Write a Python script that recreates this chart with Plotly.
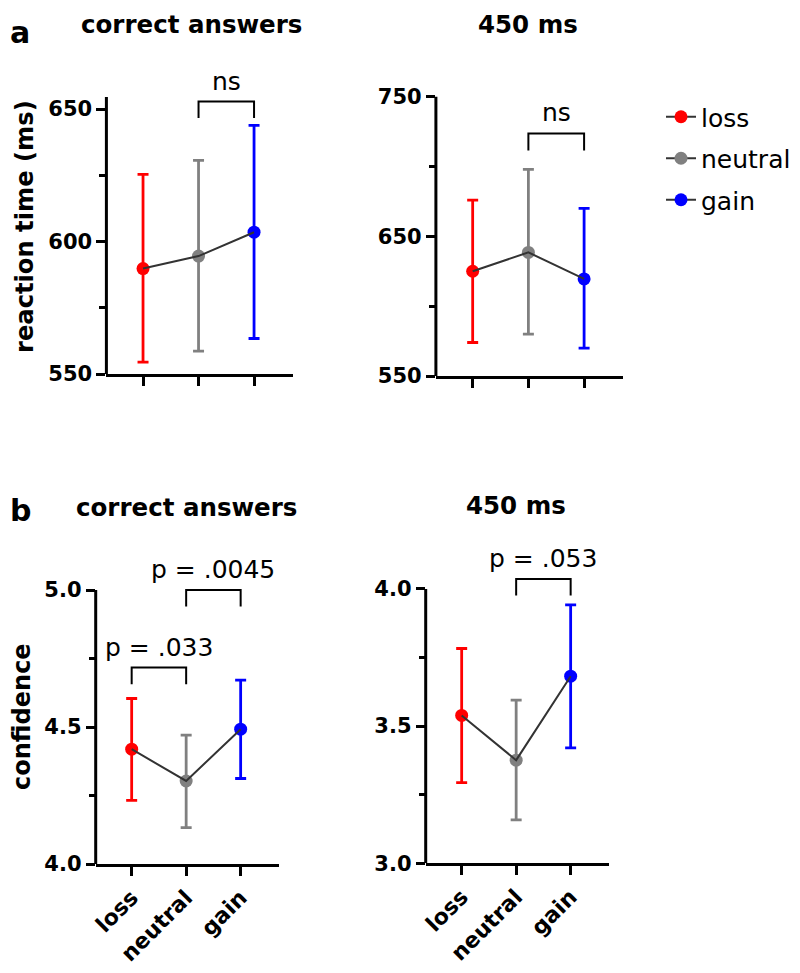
import plotly.graph_objects as go

# conditions and colours
conditions = ["loss", "neutral", "gain"]
colors = ["#ff0000", "#808080", "#0000ff"]

# reaction time, correct answers (mean, upper and lower end of error bar)
rt_correct_mean = [589.8, 594.5, 603.5]
rt_correct_upper = [625.3, 630.6, 643.8]
rt_correct_lower = [554.5, 558.6, 563.4]

# reaction time, 450 ms
rt_450_mean = [625.0, 638.5, 619.5]
rt_450_upper = [676.0, 698.0, 670.0]
rt_450_lower = [574.0, 580.0, 570.0]

# confidence, correct answers
conf_correct_mean = [4.419, 4.303, 4.492]
conf_correct_upper = [4.604, 4.470, 4.671]
conf_correct_lower = [4.232, 4.133, 4.312]

# confidence, 450 ms
conf_450_mean = [3.539, 3.376, 3.682]
conf_450_upper = [3.783, 3.595, 3.942]
conf_450_lower = [3.294, 3.158, 3.421]

# significance brackets: (from index, to index, top, foot, label)
rt_correct_brackets = [(1, 2, 652.8, 646.6, "ns")]
rt_450_brackets = [(1, 2, 723.7, 711.5, "ns")]
conf_correct_brackets = [(0, 1, 4.717, 4.656, "p = .033"),
                         (1, 2, 5.000, 4.940, "p = .0045")]
conf_450_brackets = [(1, 2, 4.036, 3.976, "p = .053")]

# y ticks
rt_correct_ticks = [550, 600, 650]
rt_correct_minor = [575, 625]
rt_450_ticks = [550, 650, 750]
rt_450_minor = [600, 700]
conf_correct_ticks = [4.0, 4.5, 5.0]
conf_correct_minor = [4.25, 4.75]
conf_450_ticks = [3.0, 3.5, 4.0]
conf_450_minor = [3.25, 3.75]

# the page body has an 8px margin, so the figure is a bit smaller than the window
PAGE_OFF = 8
W, H = 792, 957
FONT = "DejaVu Sans"


def px2x(px):
    return (px - PAGE_OFF) / W


def py2y(py):
    return 1 - (py - PAGE_OFF) / H


# panel layout in page pixels: x box, y box (bottom, top), y range, top of the drawn axis line
panels = [
    dict(mean=rt_correct_mean, upper=rt_correct_upper, lower=rt_correct_lower,
         brackets=rt_correct_brackets, ticks=rt_correct_ticks, minor=rt_correct_minor,
         tickfmt="d", xpx=(106.4, 292.9), ypx=(374, 69.25), yrange=[550, 665],
         axis_top=654.5, xlabels=False),
    dict(mean=rt_450_mean, upper=rt_450_upper, lower=rt_450_lower,
         brackets=rt_450_brackets, ticks=rt_450_ticks, minor=rt_450_minor,
         tickfmt="d", xpx=(435.9, 623.1), ypx=(376, 54.8), yrange=[550, 780],
         axis_top=750, xlabels=False),
    dict(mean=conf_correct_mean, upper=conf_correct_upper, lower=conf_correct_lower,
         brackets=conf_correct_brackets, ticks=conf_correct_ticks, minor=conf_correct_minor,
         tickfmt=".1f", xpx=(95.7, 278.8), ypx=(864, 535.2), yrange=[4.0, 5.2],
         axis_top=5.0, xlabels=True),
    dict(mean=conf_450_mean, upper=conf_450_upper, lower=conf_450_lower,
         brackets=conf_450_brackets, ticks=conf_450_ticks, minor=conf_450_minor,
         tickfmt=".1f", xpx=(425.7, 608.8), ypx=(863.3, 534.1), yrange=[3.0, 4.2],
         axis_top=4.0, xlabels=True),
]

fig = go.Figure()
layout = {}
annotations = []
shapes = []
x_idx = list(range(len(conditions)))

for p, pan in enumerate(panels):
    n = "" if p == 0 else str(p + 1)
    xa, ya = "x" + n, "y" + n

    for i, cond in enumerate(conditions):
        fig.add_trace(go.Scatter(
            x=[x_idx[i]], y=[pan["mean"][i]], xaxis=xa, yaxis=ya,
            mode="lines+markers", name=cond, legendgroup=cond,
            showlegend=(p == 0),
            line=dict(color="#333333", width=2),
            marker=dict(color=colors[i], size=13),
            error_y=dict(type="data", symmetric=False,
                         array=[pan["upper"][i] - pan["mean"][i]],
                         arrayminus=[pan["mean"][i] - pan["lower"][i]],
                         color=colors[i], thickness=2.8, width=5.5),
            cliponaxis=False,
        ))
    fig.add_trace(go.Scatter(
        x=x_idx, y=pan["mean"], xaxis=xa, yaxis=ya, mode="lines",
        line=dict(color="#333333", width=2), showlegend=False, hoverinfo="skip",
    ))

    for a, b, top, foot, label in pan["brackets"]:
        fig.add_trace(go.Scatter(
            x=[a, a, b, b], y=[foot, top, top, foot], xaxis=xa, yaxis=ya,
            mode="lines", line=dict(color="black", width=2),
            showlegend=False, hoverinfo="skip",
        ))
        annotations.append(dict(
            x=(a + b) / 2, y=top, xref=xa, yref=ya, text=label, showarrow=False,
            yanchor="bottom", yshift=4, font=dict(family=FONT, size=25, color="black"),
        ))

    # y axis line up to the top tick
    shapes.append(dict(type="line", xref=xa + " domain", yref=ya, x0=0, x1=0,
                       y0=pan["yrange"][0], y1=pan["axis_top"],
                       line=dict(color="black", width=3)))

    layout["xaxis" + n] = dict(
        domain=[px2x(pan["xpx"][0]), px2x(pan["xpx"][1])], anchor=ya,
        range=[-0.66, 2.70], tickvals=x_idx, ticktext=conditions,
        showticklabels=pan["xlabels"], tickangle=-45, automargin=False,
        tickfont=dict(family=FONT, size=22, color="black", weight="bold"),
        showline=True, linecolor="black", linewidth=3,
        ticks="outside", ticklen=9, tickwidth=3, tickcolor="black",
        showgrid=False, zeroline=False, fixedrange=True,
    )
    layout["yaxis" + n] = dict(
        domain=[py2y(pan["ypx"][0]), py2y(pan["ypx"][1])], anchor=xa,
        range=pan["yrange"], tickvals=pan["ticks"], tickformat=pan["tickfmt"],
        tickfont=dict(family=FONT, size=21, color="black", weight="bold"),
        showline=False, ticks="outside", ticklen=9, tickwidth=3, tickcolor="black",
        minor=dict(tickvals=pan["minor"], ticks="outside", ticklen=6,
                   tickwidth=3, tickcolor="black", showgrid=False),
        showgrid=False, zeroline=False, fixedrange=True, automargin=False,
    )

# titles, panel letters, axis titles (page pixels)
texts = [
    ("correct answers", 191, 24, 24.5, 0),
    ("450 ms", 528, 24, 24.5, 0),
    ("correct answers", 186, 507, 24.5, 0),
    ("450 ms", 516, 505, 24.5, 0),
    ("a", 20, 32, 30, 0),
    ("b", 20, 510, 30, 0),
    ("reaction time (ms)", 25, 227, 24.2, -90),
    ("confidence", 22, 717, 24, -90),
]
for text, x, y, size, angle in texts:
    annotations.append(dict(
        text=text, x=px2x(x), y=py2y(y), xref="paper", yref="paper", showarrow=False,
        xanchor="center", yanchor="middle", textangle=angle,
        font=dict(family=FONT, size=size, color="black", weight="bold"),
    ))

fig.update_layout(
    width=W, height=H, margin=dict(l=0, r=0, t=0, b=0, autoexpand=False),
    paper_bgcolor="white", plot_bgcolor="white",
    annotations=annotations, shapes=shapes,
    legend=dict(x=px2x(661), y=py2y(94), xanchor="left", yanchor="top",
                font=dict(family=FONT, size=25, color="black"),
                tracegroupgap=6, itemwidth=30, bgcolor="rgba(0,0,0,0)"),
    **layout,
)

fig.write_html("out.html")
